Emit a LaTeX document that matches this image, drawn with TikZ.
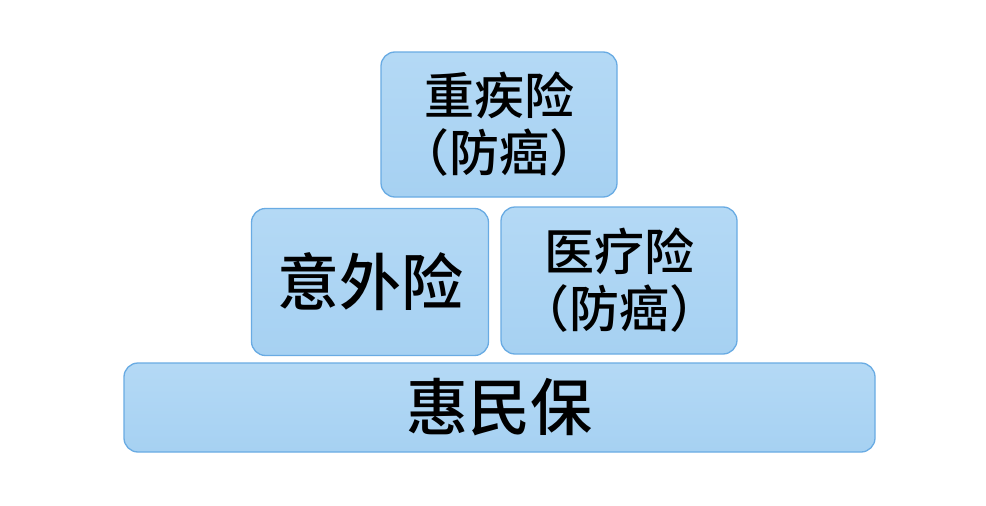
\documentclass[tikz,border=0pt]{standalone}
\usepackage{fontspec}
\newfontfamily\cjk[BoldFont={Noto Sans CJK SC Medium}]{Noto Sans CJK SC}
\definecolor{boxfill}{HTML}{A6D1F2}
\definecolor{boxtop}{HTML}{B4D9F5}
\definecolor{boxline}{HTML}{69ABE3}
\begin{document}
\begin{tikzpicture}[x=1pt,y=-1pt,
  tier/.style={draw=boxline,line width=1.3pt,rounded corners=14pt,top color=boxtop,bottom color=boxfill,inner sep=0pt,align=center,text=black},
  bigtxt/.style={font=\fontsize{50}{57}\cjk\bfseries},
  hugetxt/.style={font=\fontsize{62}{68}\cjk\bfseries}]
\useasboundingbox[fill=white] (0,0) rectangle (986,506);
\node[tier,bigtxt,minimum width=236pt,minimum height=145pt] (top) at (499,124.5) {重疾险\\（防癌）};
\node[tier,hugetxt,minimum width=237pt,minimum height=147pt] (left) at (370,282) {意外险};
\node[tier,bigtxt,minimum width=236pt,minimum height=147pt] (right) at (619,280.5) {医疗险\\（防癌）};
\node[tier,hugetxt,minimum width=751pt,minimum height=89pt] (base) at (499.5,407.5) {惠民保};
\end{tikzpicture}
\end{document}
